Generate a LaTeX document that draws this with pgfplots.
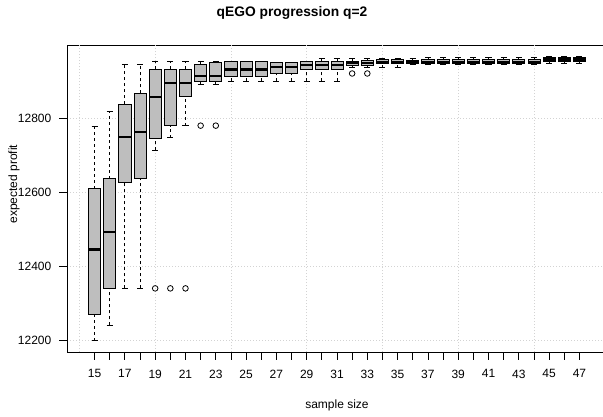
\documentclass[border=0pt]{standalone}
\usepackage{fontspec}
\setmainfont{Liberation Sans}
\usepackage{pgfplots}
\usepackage{pgfplotstable}
\pgfplotsset{compat=1.18}
\usepgfplotslibrary{statistics}

\definecolor{boxgray}{RGB}{190,190,190}
\definecolor{gridgray}{RGB}{211,211,211}

% one row per sample size 15..47
\pgfplotstableread{
lw lq med uq uw
12200 12271 12446 12611 12779
12241 12341 12493 12638 12820
12341 12627 12750 12839 12946
12341 12638 12764 12868 12946
12714 12747 12858 12933 12954
12748 12781 12897 12933 12954
12781 12860 12897 12933 12954
12892 12901 12915 12946 12956
12892 12901 12915 12951 12956
12901 12915 12933 12954 12956
12901 12915 12933 12954 12954
12901 12915 12933 12954 12954
12901 12921 12940 12952 12953
12901 12921 12940 12952 12953
12901 12933 12946 12954 12955
12901 12933 12946 12955 12964
12901 12933 12946 12955 12964
12938 12944 12950 12956 12964
12939 12945 12951 12957 12964
12938 12948 12954 12959 12964
12938 12948 12954 12959 12964
12946 12950 12954 12958 12962
12946 12950 12954 12960 12966
12947 12950 12954 12960 12966
12947 12950 12954 12960 12966
12947 12950 12954 12960 12966
12947 12950 12954 12960 12966
12947 12950 12954 12960 12966
12947 12950 12954 12960 12966
12947 12950 12954 12960 12966
12949 12955 12960 12965 12969
12949 12955 12960 12965 12969
12949 12955 12960 12965 12969
}\boxdata

\begin{document}
\begin{tikzpicture}
\path[use as bounding box] (-67pt,-64pt) rectangle (536pt,352pt);
\begin{axis}[
    overlay,
    at={(0pt,0pt)}, anchor=south west,
    scale only axis,
    width=540pt, height=307pt,
    xmin=13.18, xmax=48.82,
    ymin=12169, ymax=12999,
    scaled y ticks=false,
    axis line style={black, line width=0.8pt},
    tick pos=left, tick align=outside,
    major tick length=7.5pt,
    every tick/.style={black, line width=0.8pt},
    xtick={15,...,47},
    xticklabels={15,,17,,19,,21,,23,,25,,27,,29,,31,,33,,35,,37,,39,,41,,43,,45,,47},
    ytick={12200,12400,12600,12800},
    yticklabels={12200,12400,12600,12800},
    extra x ticks={14,19,24,29,34,39,44},
    extra x tick labels={},
    extra x tick style={xmajorgrids=true, major tick length=0pt},
    ymajorgrids,
    major grid style={gridgray, line width=0.8pt, dash pattern=on 1pt off 2pt},
    tick label style={font=\fontsize{12}{14}\selectfont},
    xticklabel style={inner sep=0pt, yshift=-10pt},
    yticklabel style={inner sep=0pt, xshift=-8pt},
    title={qEGO progression q=2},
    title style={at={(axis description cs:0.4167,1.0847)}, anchor=center,
        yshift=0pt, font=\fontsize{13.8}{16}\selectfont\bfseries},
    xlabel={sample size},
    xlabel style={at={(axis description cs:0.5,-0.1726)}, anchor=center,
        font=\fontsize{12}{14}\selectfont},
    ylabel={expected profit},
    ylabel style={at={(axis description cs:-0.0981,0.547)}, anchor=center,
        font=\fontsize{12}{14}\selectfont},
    boxplot/draw direction=y,
    boxplot/every box/.style={draw=black, fill=boxgray, line width=0.8pt},
    boxplot/every median/.style={black, line width=2.2pt},
    boxplot/draw/lower whisker/.code={%
        \draw[black, line width=0.8pt, dash pattern=on 3pt off 3pt]
            (boxplot box cs:\pgfplotsboxplotvalue{lower whisker},0.5) --
            (boxplot box cs:\pgfplotsboxplotvalue{lower quartile},0.5);
        \draw[black, line width=0.8pt]
            (boxplot whisker cs:\pgfplotsboxplotvalue{lower whisker},0) --
            (boxplot whisker cs:\pgfplotsboxplotvalue{lower whisker},1);
    },
    boxplot/draw/upper whisker/.code={%
        \draw[black, line width=0.8pt, dash pattern=on 3pt off 3pt]
            (boxplot box cs:\pgfplotsboxplotvalue{upper quartile},0.5) --
            (boxplot box cs:\pgfplotsboxplotvalue{upper whisker},0.5);
        \draw[black, line width=0.8pt]
            (boxplot whisker cs:\pgfplotsboxplotvalue{upper whisker},0) --
            (boxplot whisker cs:\pgfplotsboxplotvalue{upper whisker},1);
    },
]
\pgfplotsinvokeforeach{0,...,32}{
    \pgfplotstablegetelem{#1}{lw}\of\boxdata \let\vlw\pgfplotsretval
    \pgfplotstablegetelem{#1}{lq}\of\boxdata \let\vlq\pgfplotsretval
    \pgfplotstablegetelem{#1}{med}\of\boxdata \let\vmed\pgfplotsretval
    \pgfplotstablegetelem{#1}{uq}\of\boxdata \let\vuq\pgfplotsretval
    \pgfplotstablegetelem{#1}{uw}\of\boxdata \let\vuw\pgfplotsretval
    \edef\doplot{\noexpand\addplot[black, boxplot prepared={
        draw position=\the\numexpr15+#1\relax,
        lower whisker=\vlw, lower quartile=\vlq, median=\vmed,
        upper quartile=\vuq, upper whisker=\vuw,
        box extend=0.8, whisker extend=0.4}] coordinates {};}
    \doplot
}
% outliers
\addplot[only marks, mark=o, mark size=2.8pt, mark options={black, line width=0.8pt}]
    coordinates {(19,12341) (20,12341) (21,12341) (22,12781) (23,12781) (32,12922) (33,12922)};
\end{axis}
\end{tikzpicture}
\end{document}
